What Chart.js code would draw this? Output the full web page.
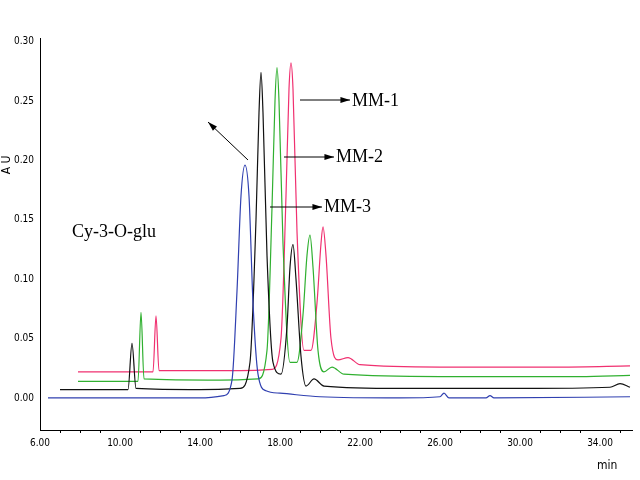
<!DOCTYPE html>
<html><head><meta charset="utf-8">
<script src="https://cdn.jsdelivr.net/npm/chart.js@4"></script>
<style>body{margin:0;background:#fff}#wrap{width:640px;height:480px}</style>
</head><body><div id="wrap"><canvas id="c"></canvas></div>
<script>
// retention time (min), absorbance (AU)
const blueT = [6.4, 10, 14, 15.2, 15.6, 15.85, 16.05, 16.25, 16.45, 16.65, 16.9, 17.3, 18, 20, 24, 26, 26.2, 26.45, 28.3, 28.5, 28.7, 35.5];
const blueV = [0.000, 0.000, 0.000, 0.002, 0.015, 0.09, 0.17, 0.196, 0.17, 0.08, 0.02, 0.006, 0.004, 0.001, 0.000, 0.001, 0.004, 0.000, 0.000, 0.002, 0.000, 0.001];
const blackT = [7.0, 10.4, 10.6, 10.8, 14, 16.0, 16.5, 16.8, 16.95, 17.05, 17.15, 17.35, 17.65, 18.05, 18.35, 18.5, 18.65, 18.8, 19.05, 19.3, 19.7, 20.2, 24, 30, 34.5, 35.0, 35.5];
const blackV = [0.007, 0.007, 0.046, 0.008, 0.007, 0.008, 0.03, 0.15, 0.24, 0.274, 0.24, 0.12, 0.03, 0.02, 0.06, 0.11, 0.129, 0.10, 0.035, 0.010, 0.016, 0.010, 0.008, 0.008, 0.009, 0.012, 0.009];
const greenT = [7.9, 10.9, 11.05, 11.2, 15, 16.9, 17.35, 17.6, 17.75, 17.85, 17.95, 18.15, 18.5, 18.85, 19.15, 19.35, 19.5, 19.65, 19.9, 20.2, 20.6, 21.2, 26, 33, 35.5];
const greenV = [0.014, 0.014, 0.072, 0.016, 0.015, 0.016, 0.04, 0.16, 0.25, 0.278, 0.25, 0.13, 0.03, 0.03, 0.07, 0.12, 0.137, 0.11, 0.04, 0.022, 0.026, 0.020, 0.018, 0.018, 0.019];
const pinkT = [7.9, 11.65, 11.8, 11.95, 16, 17.6, 18.05, 18.3, 18.45, 18.55, 18.65, 18.85, 19.2, 19.55, 19.85, 20.05, 20.15, 20.3, 20.55, 20.9, 21.4, 22, 26, 32, 35.5];
const pinkV = [0.022, 0.022, 0.069, 0.023, 0.023, 0.024, 0.05, 0.17, 0.26, 0.282, 0.26, 0.14, 0.04, 0.04, 0.08, 0.13, 0.144, 0.12, 0.05, 0.032, 0.034, 0.028, 0.026, 0.026, 0.027];
const xTicks = [6, 10, 14, 18, 22, 26, 30, 34];
const yTicks = [0, 0.05, 0.10, 0.15, 0.20, 0.25, 0.30];

const pts = (t, v) => t.map((x, i) => ({x: x, y: v[i]}));
const mk = (t, v, col) => ({data: pts(t, v), borderColor: col, borderWidth: 1.2, pointRadius: 0, cubicInterpolationMode: 'monotone', fill: false});

const deco = {
  id: 'deco',
  afterDraw(ch) {
    const g = ch.ctx;
    const xs = ch.scales.x, ya = ch.chartArea;
    g.save();
    g.strokeStyle = '#000'; g.fillStyle = '#000'; g.lineWidth = 1;
    // minor ticks every minute
    for (let m = 7; m <= 35; m++) {
      if (xTicks.includes(m)) continue;
      const px = Math.round(xs.getPixelForValue(m)) + 0.5;
      g.beginPath(); g.moveTo(px, ya.bottom); g.lineTo(px, ya.bottom + 3); g.stroke();
    }
    const arrow = (x1, y1, x2, y2) => {
      g.beginPath(); g.moveTo(x1, y1); g.lineTo(x2, y2); g.stroke();
      const a = Math.atan2(y2 - y1, x2 - x1);
      g.beginPath(); g.moveTo(x2, y2);
      g.lineTo(x2 - 10 * Math.cos(a - 0.3), y2 - 10 * Math.sin(a - 0.3));
      g.lineTo(x2 - 10 * Math.cos(a + 0.3), y2 - 10 * Math.sin(a + 0.3));
      g.closePath(); g.fill();
    };
    arrow(300, 100, 350, 100);
    arrow(284, 157, 334, 157);
    arrow(270, 207, 322, 207);
    arrow(248, 160, 208, 122);
    g.font = '18px "Liberation Serif"';
    g.textBaseline = 'middle';
    g.fillText('MM-1', 352, 101);
    g.fillText('MM-2', 336, 157);
    g.fillText('MM-3', 324, 207);
    g.fillText('Cy-3-O-glu', 72, 232);
    g.font = '12px "DejaVu Sans Condensed"';
    g.fillText('min', 597, 466);
    g.translate(7, 165); g.rotate(-Math.PI / 2);
    g.textAlign = 'center';
    g.fillText('A U', 0, 0);
    g.restore();
  }
};

const tickFont = {family: 'DejaVu Sans Condensed', size: 10};
new Chart(document.getElementById('c'), {
  type: 'line',
  data: {datasets: [mk(blueT, blueV, '#3040b0'), mk(blackT, blackV, '#111'), mk(greenT, greenV, '#30b030'), mk(pinkT, pinkV, '#f03070')]},
  options: {
    responsive: true, maintainAspectRatio: false, animation: false,
    layout: {padding: {left: 0, right: 8, top: 38, bottom: 30}},
    plugins: {legend: {display: false}, tooltip: {enabled: false}},
    scales: {
      x: {type: 'linear', min: 6, max: 35.6,
        afterBuildTicks: a => { a.ticks = xTicks.map(v => ({value: v})); },
        afterFit: a => { a.height = 20; },
        grid: {display: false, drawTicks: true, tickColor: '#000', tickLength: 5}, border: {color: '#000'},
        ticks: {color: '#000', font: tickFont, padding: 2, maxRotation: 0, callback: v => v.toFixed(2)}},
      y: {min: -0.027, max: 0.303,
        afterBuildTicks: a => { a.ticks = yTicks.map(v => ({value: v})); },
        afterFit: a => { a.width = 40; },
        grid: {display: false, drawTicks: true, tickColor: '#000', tickLength: 4}, border: {color: '#000'},
        ticks: {color: '#000', font: tickFont, padding: 2, callback: v => v.toFixed(2)}}
    }
  },
  plugins: [deco]
});
</script></body></html>
